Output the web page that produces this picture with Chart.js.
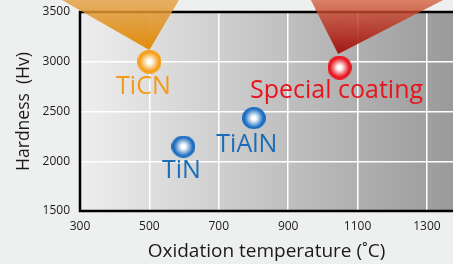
<!DOCTYPE html>
<html>
<head>
<meta charset="utf-8">
<script src="https://cdn.jsdelivr.net/npm/chart.js@4/dist/chart.umd.min.js"></script>
<style>
html,body{margin:0;padding:0;background:#eef0ef;}
#wrap{width:453px;height:264px;}
</style>
</head>
<body>
<div id="wrap"><canvas id="graph"></canvas></div>
<script>

const coatings=["TiCN","Special coating","TiAlN","TiN"];
const oxidationTemp=[500,1048,801,598];
const hardness=[3000,2942,2434,2147];

const xTicks=[300,500,700,900,1100,1300];
const yTicks=[1500,2000,2500,3000,3500];

// callout triangles (apex, top left, top right) in data units
const calloutX=[[500,233,590],[1044,961,1363]];
const calloutY=[[3118,3650,3650],[3077,3650,3650]];

const ballColors=["#f5a01a","#e8161f","#1a6cc0","#1a6cc0"];
const labelColors=["#f39a17","#e8141c","#1b6dba","#1b6dba"];
const labelOffsets=[[-6,25],[-3,23],[-7,27],[-2,24]];

function makeBall(color,w,h){
let c=document.createElement("canvas");
c.width=w;c.height=h;
let g=c.getContext("2d");
let grad=g.createRadialGradient(w/2,h/2,0,w/2,h/2,w/2);
grad.addColorStop(0,"#ffffff");
grad.addColorStop(0.18,"#ffffff");
grad.addColorStop(0.8,color);
grad.addColorStop(1,color);
g.fillStyle=grad;
g.beginPath();
g.ellipse(w/2,h/2,w/2,h/2,0,0,Math.PI*2);
g.fill();
return c;
}

const balls=[makeBall(ballColors[0],24,24),makeBall(ballColors[1],24,24),makeBall(ballColors[2],24,22),makeBall(ballColors[3],24,22)];

const decor={
id:"decor",
beforeDraw(chart){
let a=chart.chartArea,ctx=chart.ctx;
let grad=ctx.createLinearGradient(a.left,0,a.right,0);
grad.addColorStop(0,"#eeeeee");
grad.addColorStop(1,"#9a9a9a");
ctx.save();
ctx.fillStyle=grad;
ctx.fillRect(a.left,a.top,a.right-a.left,a.bottom-a.top);
ctx.restore();
},
beforeDatasetsDraw(chart){
let a=chart.chartArea,ctx=chart.ctx;
let xs=chart.scales.x,ys=chart.scales.y;
ctx.save();
ctx.strokeStyle="#000";
ctx.lineWidth=2.5;
ctx.beginPath();
ctx.moveTo(a.right+2,a.top);
ctx.lineTo(a.left,a.top);
ctx.lineTo(a.left,a.bottom);
ctx.lineTo(a.right+2,a.bottom);
ctx.stroke();
let shades=[["rgba(228,160,70,0.8)","rgba(224,135,0,0.95)"],["rgba(215,95,60,0.75)","rgba(160,12,12,0.95)"]];
for(let i=0;i<calloutX.length;i++){
let px=calloutX[i].map(v=>xs.getPixelForValue(v));
let py=calloutY[i].map(v=>ys.getPixelForValue(v));
let grad=ctx.createLinearGradient(0,py[1],0,py[0]);
grad.addColorStop(0,shades[i][0]);
grad.addColorStop(1,shades[i][1]);
ctx.fillStyle=grad;
ctx.beginPath();
ctx.moveTo(px[0],py[0]);
ctx.lineTo(px[1],py[1]);
ctx.lineTo(px[2],py[2]);
ctx.closePath();
ctx.fill();
}
ctx.restore();
},
afterDatasetsDraw(chart){
let ctx=chart.ctx;
let xs=chart.scales.x,ys=chart.scales.y;
ctx.save();
ctx.font="25px 'Open Sans'";
ctx.textAlign="center";
ctx.textBaseline="middle";
coatings.forEach((name,i)=>{
ctx.fillStyle=labelColors[i];
ctx.fillText(name,xs.getPixelForValue(oxidationTemp[i])+labelOffsets[i][0],ys.getPixelForValue(hardness[i])+labelOffsets[i][1]);
});
ctx.restore();
}
};

new Chart(document.getElementById("graph"),{
type:"scatter",
data:{
datasets:[{
data:oxidationTemp.map((t,i)=>({x:t,y:hardness[i]})),
pointStyle:balls,
pointRadius:12,
pointHoverRadius:12
}]
},
options:{
responsive:true,
maintainAspectRatio:false,
animation:false,
events:[],
layout:{autoPadding:false,padding:{top:12,right:0,left:0,bottom:0}},
plugins:{legend:{display:false},tooltip:{enabled:false}},
scales:{
x:{
type:"linear",min:300,max:1375,
afterBuildTicks(s){s.ticks=xTicks.map(v=>({value:v}));},
afterFit(s){s.height=53;s.paddingLeft=0;s.paddingRight=0;},
grid:{color:"#ffffff",lineWidth:1.5,drawTicks:false},
border:{display:false},
ticks:{color:"#1a1a1a",padding:8,font:{family:"'Open Sans'",size:12},callback:v=>String(v)},
title:{display:true,text:"Oxidation temperature (˚C)",color:"#1a1a1a",font:{family:"'Open Sans'",size:19},padding:{top:0,bottom:1}}
},
y:{
type:"linear",min:1500,max:3500,
afterBuildTicks(s){s.ticks=yTicks.map(v=>({value:v}));},
afterFit(s){s.width=80;s.paddingTop=0;s.paddingBottom=0;},
grid:{color:"#ffffff",lineWidth:1.5,drawTicks:false},
border:{display:false},
ticks:{color:"#1a1a1a",padding:10,font:{family:"'Open Sans'",size:12},callback:v=>String(v)},
title:{display:true,text:"Hardness  (Hv)",color:"#1a1a1a",font:{family:"'Open Sans'",size:17.5},padding:{top:14,bottom:0}}
}
}
},
plugins:[decor]
});

</script>
</body>
</html>
